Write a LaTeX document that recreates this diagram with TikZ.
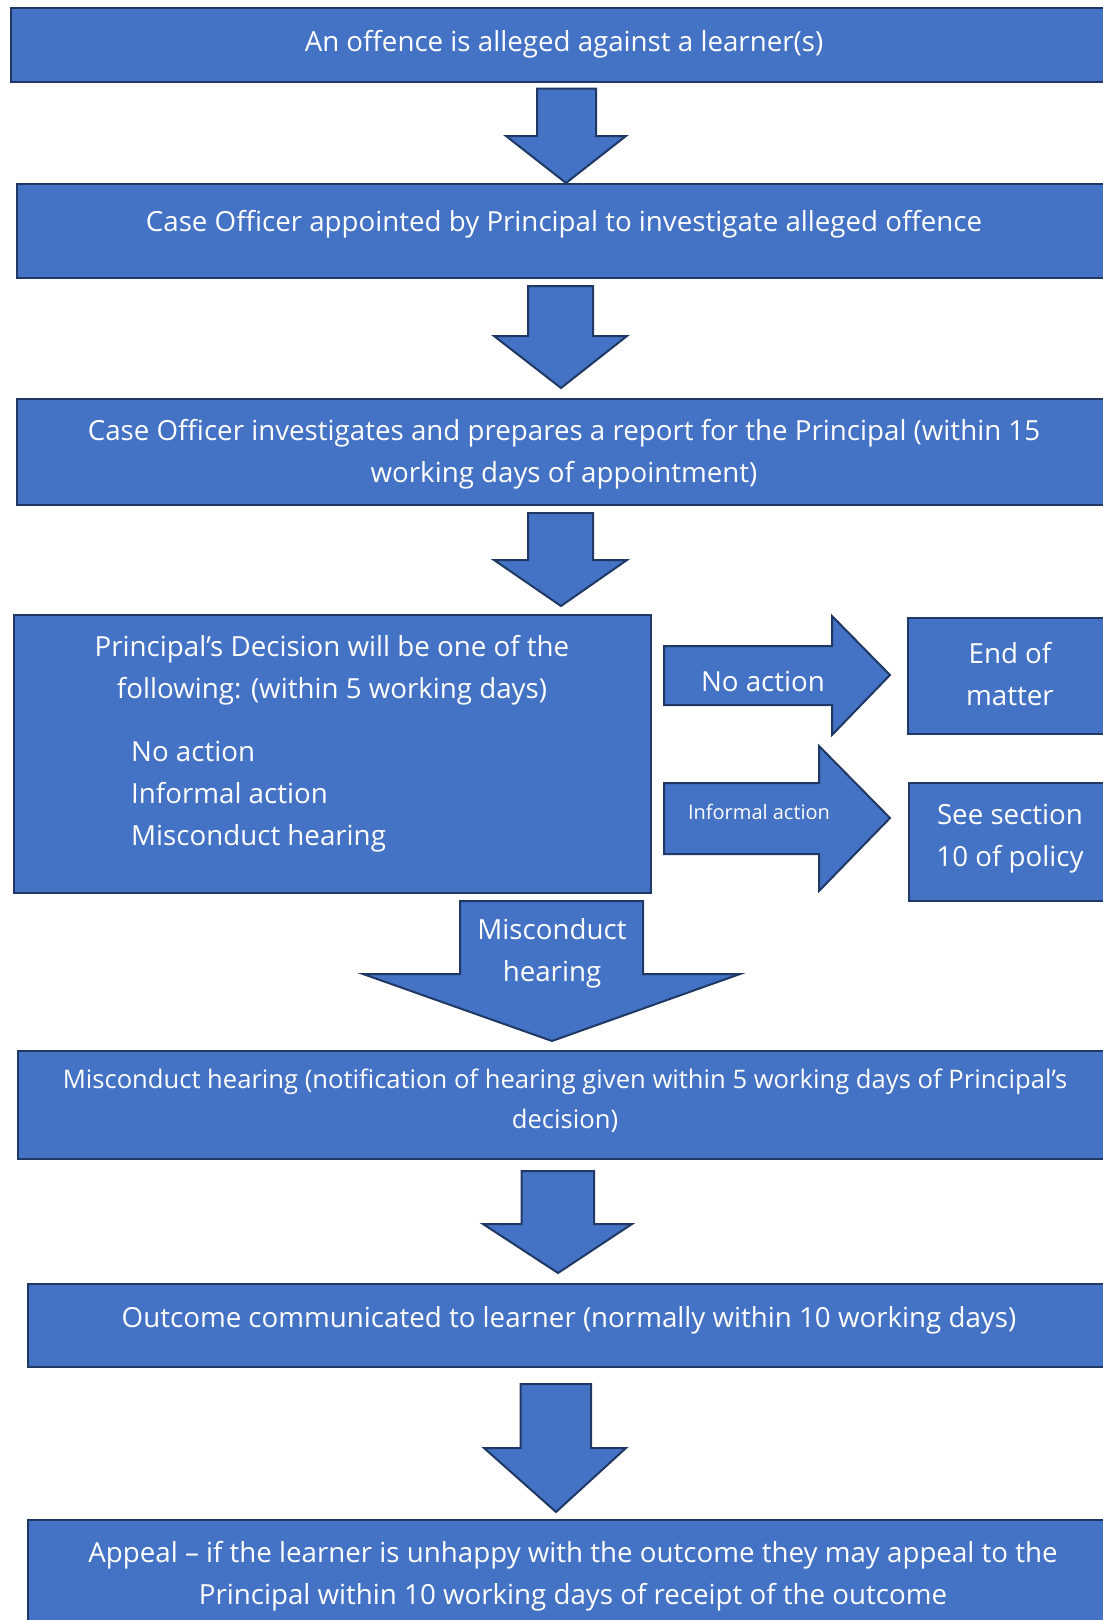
\documentclass[tikz,border=0pt]{standalone}
\usepackage{fontspec}
\setmainfont{Open Sans}
\usetikzlibrary{positioning}

\definecolor{flowblue}{HTML}{4472C4}
\definecolor{flowedge}{HTML}{1F3864}

\begin{document}
\begin{tikzpicture}[x=1pt, y=-1pt,
    box/.style={draw=flowedge, fill=flowblue, line width=2pt, inner sep=0pt, anchor=north west},
    boxtext/.style={text=white, font=\fontsize{27.7}{42}\selectfont, align=center, inner sep=0pt, yshift=-2.5pt},
    smalltext/.style={text=white, font=\fontsize{20}{26}\selectfont, align=center, inner sep=0pt, yshift=-2pt},
    blockarrow/.style={draw=flowedge, fill=flowblue, line width=2pt, line join=miter}]
    \useasboundingbox (0,0) rectangle (1103,1620);

    % main column
    \node[box, minimum width=1108, minimum height=74] (offence) at (10,7) {};
    \node[box, minimum width=1100, minimum height=94] (appoint) at (15.5,183) {};
    \node[box, minimum width=1100, minimum height=106] (report) at (15.5,398) {};
    \node[box, minimum width=637, minimum height=278] (decision) at (13.4,613.5) {};
    \node[box, minimum width=1100, minimum height=108] (hearing) at (16.5,1050) {};
    \node[box, minimum width=1090, minimum height=83] (outcome) at (26.7,1283) {};
    \node[box, minimum width=1092, minimum height=121] (appeal) at (26.7,1519) {};

    % side boxes
    \node[box, minimum width=213, minimum height=116] (endmatter) at (907,617) {};
    \node[box, minimum width=212, minimum height=118] (seesection) at (908,782) {};

    % block arrows
    \draw[blockarrow] (537,88.7) -- (596,88.7) -- (596,136) -- (626,136) -- (566,183)
        -- (506,136) -- (537,136) -- cycle;
    \draw[blockarrow] (528,286) -- (593,286) -- (593,336) -- (627,336) -- (561,388)
        -- (494,336) -- (528,336) -- cycle;
    \draw[blockarrow] (528,513) -- (593,513) -- (593,560) -- (627,560) -- (561,606)
        -- (494,560) -- (528,560) -- cycle;
    \draw[blockarrow] (664,646) -- (832,646) -- (832,616) -- (890,675) -- (832,735)
        -- (832,705) -- (664,705) -- cycle;
    \draw[blockarrow] (664,783) -- (819,783) -- (819,746) -- (890,818) -- (819,891)
        -- (819,854) -- (664,854) -- cycle;
    \draw[blockarrow] (460,901) -- (643,901) -- (643,974) -- (740,974) -- (552,1041)
        -- (363,974) -- (460,974) -- cycle;
    \draw[blockarrow] (521.5,1171) -- (594,1171) -- (594,1224) -- (632,1224) -- (558,1273)
        -- (483,1224) -- (521.5,1224) -- cycle;
    \draw[blockarrow] (520.5,1384) -- (591,1384) -- (591,1448) -- (626,1448) -- (556,1512)
        -- (484,1448) -- (520.5,1448) -- cycle;

    % texts
    \node[boxtext] (t-offence) at (564,42) {An offence is alleged against a learner(s)};
    \node[boxtext] (t-appoint) at (564,222) {Case Officer appointed by Principal to investigate alleged offence};
    \node[boxtext] (t-report) at (564,452) {Case Officer investigates and prepares a report for the Principal (within 15\\working days of appointment)};
    \node[boxtext] (t-decision) at (332,668) {Principal’s Decision will be one of the\\following: (within 5 working days)};
    \node[boxtext, anchor=west, align=left] (t-options) at (131,794) {No action\\Informal action\\Misconduct hearing};
    \node[boxtext] (t-noaction) at (763,679) {No action};
    \node[smalltext] (t-informal) at (759,810) {Informal action};
    \node[boxtext] (t-endmatter) at (1010,671.5) {End of\\matter};
    \node[boxtext] (t-seesection) at (1010,836.5) {See section\\10 of policy};
    \node[boxtext] (t-misconduct) at (552,950.5) {Misconduct\\hearing};
    \node[boxtext, font=\fontsize{25.6}{40}\selectfont] (t-hearing) at (565,1098.5) {Misconduct hearing (notification of hearing given within 5 working days of Principal’s\\decision)};
    \node[boxtext] (t-outcome) at (569,1318) {Outcome communicated to learner (normally within 10 working days)};
    \node[boxtext] (t-appeal) at (573,1574) {Appeal – if the learner is unhappy with the outcome they may appeal to the\\Principal within 10 working days of receipt of the outcome};
\end{tikzpicture}
\end{document}
